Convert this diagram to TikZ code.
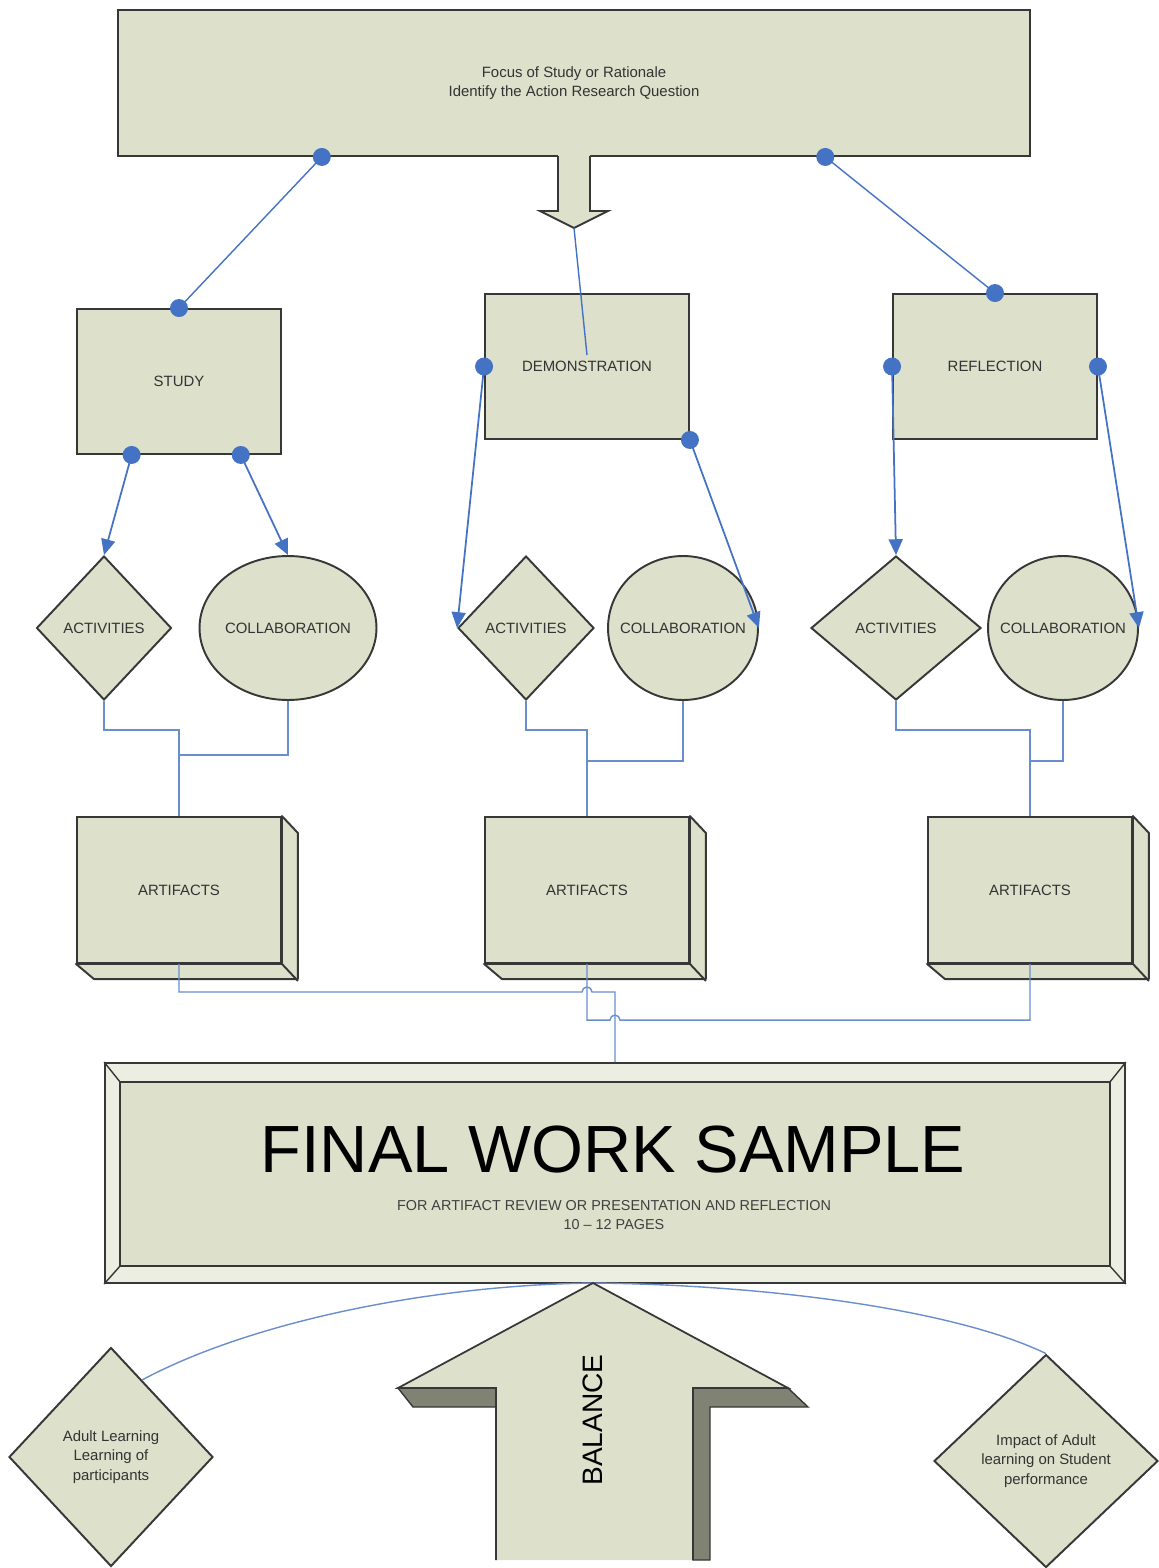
\documentclass[tikz,border=0pt]{standalone}
\usepackage{fontspec}
\setmainfont{Liberation Sans}
\usetikzlibrary{shapes.geometric,arrows.meta,calc}
\definecolor{sage}{RGB}{221,224,203}
\definecolor{bevelface}{RGB}{236,238,226}
\definecolor{darkface}{RGB}{128,130,116}
\definecolor{rim}{RGB}{55,55,55}
\definecolor{dotblue}{RGB}{68,114,196}
\definecolor{linkblue}{RGB}{105,142,206}
\tikzset{
  box/.style={draw=rim,fill=sage,line width=1.1pt,text=black!80,font=\fontsize{8.5}{11}\selectfont,align=center,inner sep=0pt},
  rbox/.style={box,rectangle,minimum width=4.08cm,minimum height=2.9cm},
  dia/.style={box,diamond,minimum height=2.88cm},
  oval/.style={box,ellipse,minimum height=2.88cm},
  link/.style={draw=linkblue,line width=0.8pt},
  arr/.style={draw=dotblue,line width=1pt,-{Triangle[length=9pt,width=8pt]}}
}
\begin{document}
\begin{tikzpicture}[x=0.02cm,y=-0.02cm]
\useasboundingbox (0,0) rectangle (1159,1568);
\node[box,rectangle,minimum width=18.24cm,minimum height=2.92cm] (focus) at (574,83) {Focus of Study or Rationale\\Identify the Action Research Question};
\fill[sage] (558,154)--(558,211)--(540,211)--(574,228)--(608,211)--(590,211)--(590,154)--cycle;
\draw[rim,line width=1.1pt] (558,156)--(558,211)--(540,211)--(574,228)--(608,211)--(590,211)--(590,156);
\coordinate (tipA) at (574,228); \coordinate (dend) at (587,355);
\node[rbox] (study) at (179,381.5) {STUDY};
\node[rbox] (demo) at (587,366.5) {DEMONSTRATION};
\node[rbox] (refl) at (995,366.5) {REFLECTION};
\coordinate (f1) at ($(focus.south west)!0.224!(focus.south east)$); \coordinate (f2) at ($(focus.south west)!0.775!(focus.south east)$);
\coordinate (s0) at (study.north); \coordinate (s1) at ($(study.south west)!0.27!(study.south east)$); \coordinate (s2) at ($(study.south west)!0.8!(study.south east)$);
\coordinate (d1) at (demo.west); \coordinate (d2) at (demo.south east);
\coordinate (r0) at (refl.north); \coordinate (r1) at (refl.west); \coordinate (r2) at (refl.east);
\draw[link,draw=dotblue] (f1)--(s0); \draw[link,draw=dotblue] (f2)--(r0); \draw[link,draw=dotblue] (tipA)--(dend);
\node[dia,minimum width=2.7cm] (act1) at (104,628) {ACTIVITIES};
\node[oval,minimum width=3.54cm] (col1) at (288,628) {\makebox[0pt]{COLLABORATION}};
\node[dia,minimum width=2.72cm] (act2) at (526,628) {ACTIVITIES};
\node[oval,minimum width=3cm] (col2) at (683,628) {\makebox[0pt]{COLLABORATION}};
\node[dia,minimum width=3.4cm] (act3) at (896,628) {ACTIVITIES};
\node[oval,minimum width=3cm] (col3) at (1063,628) {\makebox[0pt]{COLLABORATION}};
\draw[arr] (s1)--(act1.north); \draw[arr] (s2)--(col1.north);
\draw[arr] (d1)--(act2.west); \draw[arr] (d2)--(col2.east);
\draw[arr] (r1)--(act3.north); \draw[arr] (r2)--(col3.east);
\foreach \n/\x in {art1/179,art2/587,art3/1030} {
  \node[rbox,minimum height=2.92cm] (\n) at (\x,890) {ARTIFACTS};
  \draw[rim,fill=sage,line width=1.1pt,line join=round] (\n.north east) -- ++(16,17) -- ++(0,146) -- ++(-204,0) -- (\n.south west) -- (\n.south east) -- cycle;
  \draw[rim,line width=1.1pt] (\n.south east) -- ++(16,17);
}
\draw[link] (act1.south) -- ++(0,29) -| (art1.north); \draw[link] (col1.south) -- ++(0,54) -| (art1.north);
\draw[link] (act2.south) -- ++(0,29) -| (art2.north); \draw[link] (col2.south) -- ++(0,60) -| (art2.north);
\draw[link] (act3.south) -- ++(0,29) -| (art3.north); \draw[link] (col3.south) -- ++(0,60) -| (art3.north);
\node[box,rectangle,fill=bevelface,minimum width=20.4cm,minimum height=4.4cm] (fin) at (615,1173) {};
\draw[rim,fill=sage,line width=1.1pt] ($(fin.north west)+(16,20)$) rectangle ($(fin.south east)+(-16,-18)$);
\foreach \a/\dx/\dy in {north west/16/20,north east/-16/20,south west/16/-18,south east/-16/-18} \draw[rim,line width=0.8pt] (fin.\a) -- ++(\dx,\dy);
\node[font=\fontsize{38}{40}\selectfont] (title) at (613,1150) {FINAL WORK SAMPLE};
\node[align=center,font=\fontsize{8.2}{11}\selectfont,text=black!75] (sub) at (614,1215) {FOR ARTIFACT REVIEW OR PRESENTATION AND REFLECTION\\10 – 12 PAGES};
\draw[link] (art1.south) |- ($(art2.south)+(-5,28)$) arc[start angle=180,end angle=0,radius=0.1cm] -| (fin.north);
\draw[link] (art2.south) |- ($(fin.north)+(-5,-42)$) arc[start angle=180,end angle=0,radius=0.1cm] -| (art3.south);
\node[dia,minimum width=4.08cm,minimum height=4.38cm] (adl) at (111,1457) {Adult Learning\\Learning of\\participants};
\node[dia,minimum width=4.48cm,minimum height=4.26cm] (imp) at (1046,1461) {Impact of Adult\\learning on Student\\performance};
\coordinate (tip) at (593,1283);
\draw[link] (tip) .. controls (430,1285) and (250,1322) .. (adl.68);
\draw[link] (tip) .. controls (780,1285) and (960,1312) .. (imp.north);
\draw[rim,fill=darkface,line width=0.8pt] (398,1388)--(496,1388)--(496,1407)--(413,1407)--cycle;
\draw[rim,fill=darkface,line width=0.8pt] (693,1388)--(788,1388)--(808,1407)--(710,1407)--(710,1560)--(693,1560)--cycle;
\fill[sage] (tip)--(788,1388)--(693,1388)--(693,1560)--(496,1560)--(496,1388)--(398,1388)--cycle;
\draw[rim,line width=1pt] (496,1560)--(496,1388)--(398,1388)--(tip)--(788,1388)--(693,1388)--(693,1560);
\node[rotate=90,font=\fontsize{16}{18}\selectfont] (bal) at (593,1420) {BALANCE};
\foreach \p in {f1,f2,s0,s1,s2,d1,d2,r0,r1,r2} \fill[dotblue] (\p) circle (0.18cm);
\end{tikzpicture}
\end{document}
